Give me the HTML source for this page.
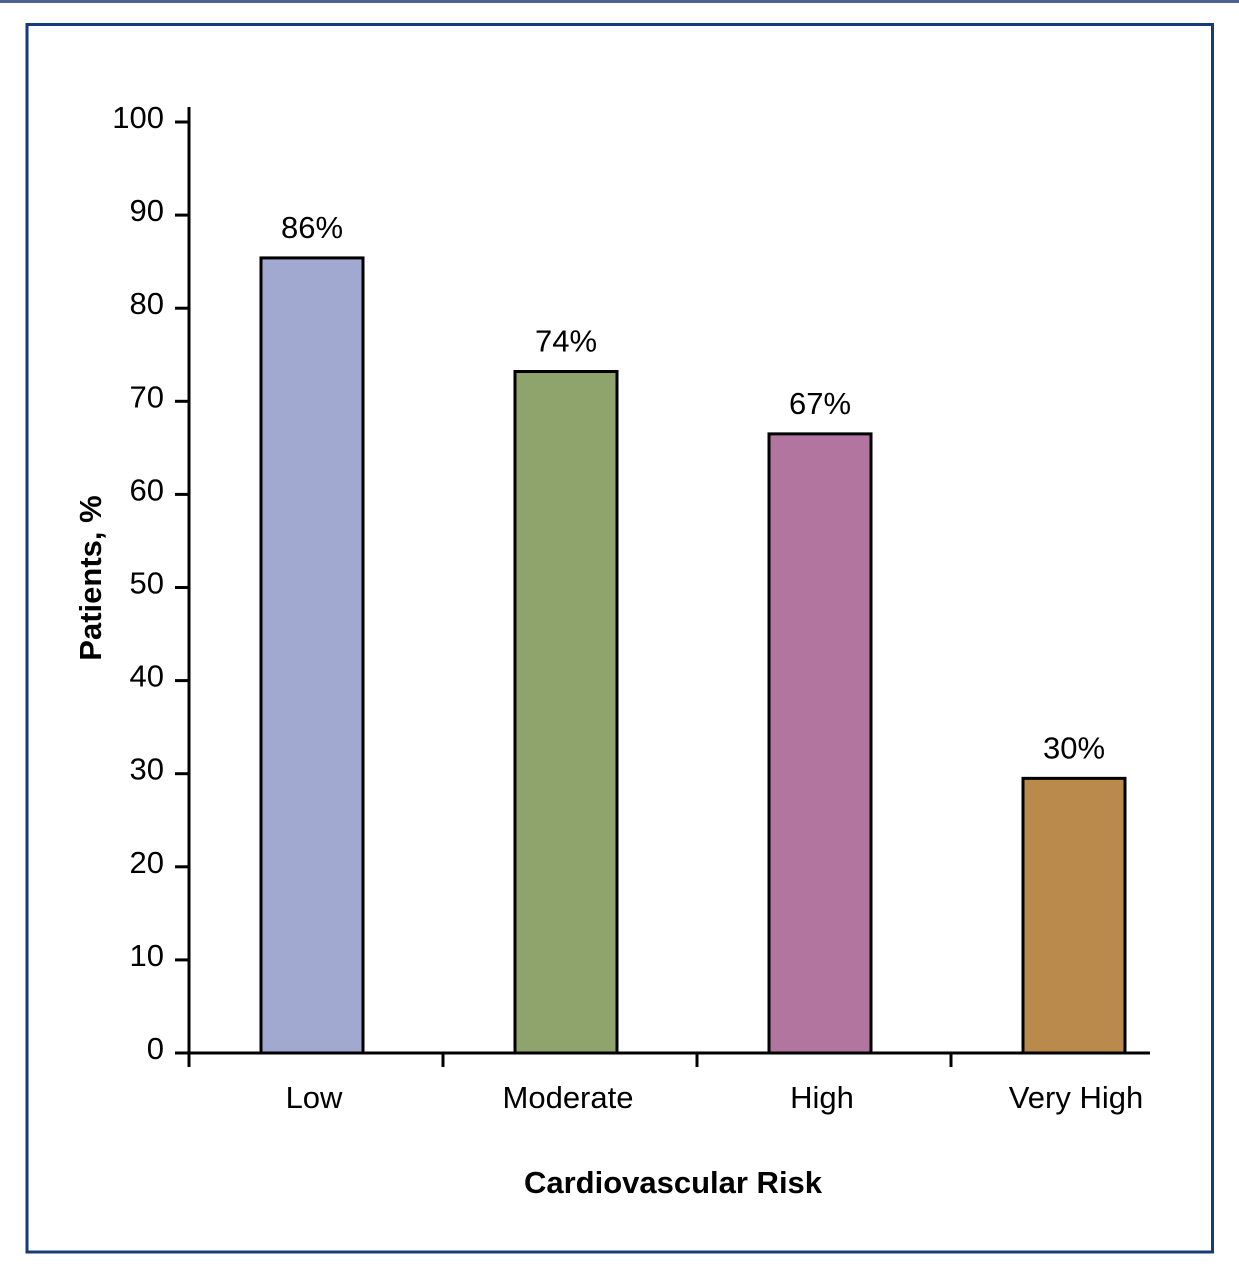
<!DOCTYPE html>
<html><head><meta charset="utf-8"><style>
html,body{margin:0;padding:0;background:#fff;}
svg{display:block;font-family:"Liberation Sans",sans-serif;}
</style></head><body>
<svg width="1239" height="1280" viewBox="0 0 1239 1280" xmlns="http://www.w3.org/2000/svg">
<rect x="0" y="0" width="1239" height="3" fill="#4e6190"/>
<rect x="27" y="24.5" width="1185.5" height="1227.5" fill="none" stroke="#173a78" stroke-width="3"/>
<g id="plot"></g>
<text x="0" y="0" transform="translate(101,578) rotate(-90)" text-anchor="middle" font-size="31" font-weight="bold" fill="#000">Patients, %</text>
<text x="673" y="1193" text-anchor="middle" font-size="31" font-weight="bold" fill="#000">Cardiovascular Risk</text>
</svg>
<script>
const categories = ["Low","Moderate","High","Very High"];
const values = [85.4,73.2,66.5,29.5];
const valueLabels = ["86%","74%","67%","30%"];
const colors = ["#a1a9d1","#8fa46d","#b1759f","#b98a4c"];
const yTicks = [0,10,20,30,40,50,60,70,80,90,100];

const NS = "http://www.w3.org/2000/svg";
const g = document.getElementById("plot");
const x0 = 189, x1 = 1150, yBase = 1053, yTop = 122;
const y = v => yBase - (yBase - yTop) * v / 100;
const band = 254;
const xc = i => x0 + band * (i + 0.5) - 4;
const barW = 102;
function mk(tag, attrs){ const e = document.createElementNS(NS, tag); for (const k in attrs) e.setAttribute(k, attrs[k]); g.appendChild(e); return e; }

categories.forEach((c, i) => {
  const r = mk("rect", {x: xc(i) - barW/2, y: y(values[i]), width: barW, height: yBase - y(values[i]), fill: colors[i], stroke: "#000", "stroke-width": 3});
  
  
  const t = mk("text", {x: xc(i), y: y(values[i]) - 20, "text-anchor": "middle", "font-size": 31, fill: "#000"});
  t.textContent = valueLabels[i];
  
  
  const ct = mk("text", {x: xc(i) + 2, y: 1108, "text-anchor": "middle", "font-size": 31, fill: "#000"});
  ct.textContent = c;
  
  
});
for (let i = 0; i < categories.length; i++) {
  const tk = mk("line", {x1: x0 + band*i, x2: x0 + band*i, y1: yBase, y2: 1067, stroke: "#000", "stroke-width": 3});
  
  
}
yTicks.forEach(v => {
  const l = mk("line", {x1: 175, x2: x0, y1: y(v), y2: y(v), stroke: "#000", "stroke-width": 3});
  
  
  const t = mk("text", {x: 164, y: y(v) + 6, "text-anchor": "end", "font-size": 31, fill: "#000"});
  t.textContent = v;
  
  
});
const ya = mk("line", {x1: x0, x2: x0, y1: 107, y2: yBase + 1.5, stroke: "#000", "stroke-width": 3});


const xa = mk("line", {x1: x0 - 1.5, x2: x1, y1: yBase, y2: yBase, stroke: "#000", "stroke-width": 3});


</script>
</body></html>
